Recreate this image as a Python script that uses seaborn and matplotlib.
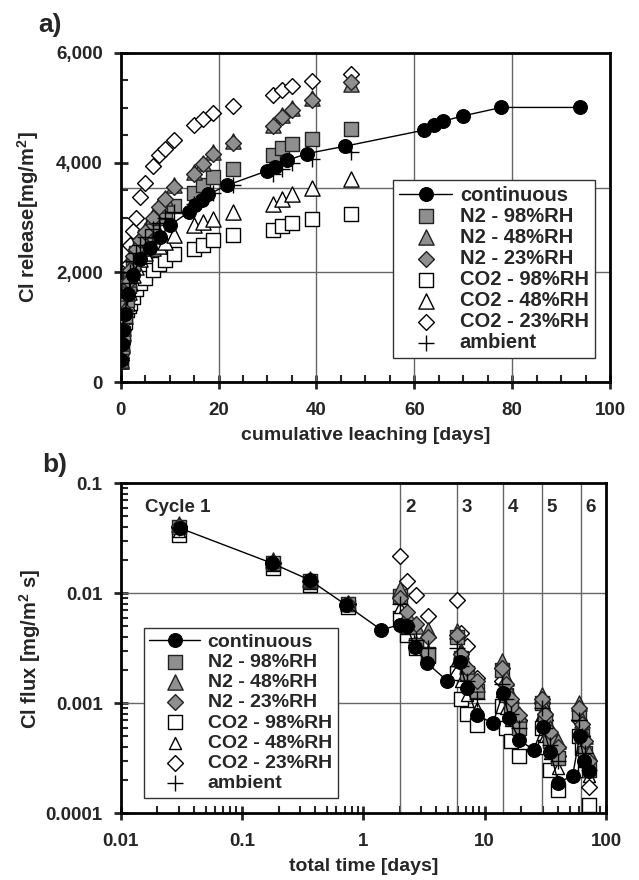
import numpy as np
import pandas as pd
import seaborn as sns
import matplotlib.pyplot as plt
from matplotlib.ticker import MultipleLocator, FuncFormatter, LogLocator, NullFormatter

# ---- panel a: cumulative Cl release ----
cont_days_a = [0.04, 0.2, 0.4, 0.8, 1.5, 2.5, 4, 6, 8, 10.1, 13.9, 15.2, 16.6, 17.9, 21.8,
               29.9, 31.6, 34, 38.1, 45.9, 61.9, 64, 65.9, 69.9, 77.8, 93.9]
cont_rel_a = [400, 700, 950, 1250, 1600, 1950, 2250, 2440, 2650, 2860, 3100, 3220, 3315, 3420, 3590,
              3850, 3920, 4040, 4165, 4300, 4590, 4690, 4755, 4850, 5005, 5005]

days_a = [0.03, 0.2, 0.4, 0.8, 1.2, 1.6, 2.0, 2.6, 3.2, 4.0, 5.0, 6.7, 7.9, 9.1, 10.8,
          14.9, 16.9, 18.8, 22.9, 31.2, 33.0, 35.1, 39.1, 47.1]
n2_98_a = [380, 650, 900, 1200, 1500, 1750, 1950, 2150, 2350, 2500, 2650, 2870, 3000, 3100, 3205,
           3440, 3590, 3730, 3890, 4135, 4275, 4335, 4425, 4620]
n2_48_a = [410, 720, 980, 1330, 1630, 1880, 2080, 2330, 2460, 2630, 2770, 3030, 3230, 3360, 3590,
           3830, 4000, 4190, 4400, 4690, 4860, 4990, 5170, 5430]
n2_23_a = [400, 700, 950, 1300, 1600, 1850, 2050, 2300, 2430, 2600, 2740, 3000, 3200, 3330, 3560,
           3800, 3970, 4160, 4360, 4660, 4830, 4965, 5145, 5465]
co2_98_a = [380, 650, 850, 1100, 1310, 1380, 1450, 1560, 1700, 1800, 1900, 2040, 2150, 2230, 2345,
            2436, 2496, 2587, 2691, 2782, 2842, 2902, 2982, 3073]
co2_48_a = [380, 680, 900, 1200, 1450, 1650, 1800, 1950, 2100, 2250, 2350, 2450, 2480, 2560, 2680,
            2860, 2920, 2980, 3100, 3255, 3345, 3436, 3545, 3696]
co2_23_a = [450, 800, 1100, 1500, 1850, 2150, 2500, 2750, 3000, 3370, 3620, 3930, 4130, 4255, 4420,
            4680, 4800, 4900, 5025, 5225, 5315, 5390, 5480, 5620]
amb_a = [400, 700, 950, 1250, 1550, 1800, 2000, 2200, 2350, 2500, 2650, 2800, 2900, 3000, 3100,
         3250, 3350, 3450, 3600, 3800, 3890, 3990, 4075, 4195]

# ---- panel b: Cl flux ----
cont_t_b = [0.031, 0.178, 0.361, 0.724, 1.41, 2.0, 2.3, 2.64, 3.37, 4.91, 6.2, 7.13, 8.6, 11.7,
            14.1, 16.0, 19.3, 25.3, 30.1, 34.8, 40.4, 53.1, 60.5, 66, 72]
cont_flux_b = [0.039, 0.0187, 0.0132, 0.0078, 0.00464, 0.0052, 0.0050, 0.00327, 0.00231, 0.0016,
               0.00239, 0.00137, 0.00078, 0.00066, 0.00123, 0.00073, 0.00046, 0.00038, 0.00061,
               0.00036, 0.00019, 0.00022, 0.0005, 0.0003, 0.00024]

t_b = [0.03, 0.18, 0.36, 0.75, 2.0, 2.3, 2.7, 3.4, 5.9, 6.4, 7.2, 8.6, 14.0, 15.0, 16.5, 19.0,
       29.5, 31.5, 34.5, 40.0, 60.0, 63.0, 67.0, 73.0]
n2_98_b = [0.040, 0.019, 0.013, 0.008, 0.0095, 0.0050, 0.0034, 0.0028, 0.0040, 0.0026, 0.0019, 0.0013,
           0.0020, 0.0012, 0.0009, 0.0006, 0.0010, 0.0007, 0.00045, 0.00032, 0.0008, 0.0005, 0.00035, 0.00025]
n2_48_b = [0.043, 0.020, 0.0135, 0.0082, 0.0110, 0.0065, 0.0050, 0.0046, 0.0045, 0.0030, 0.0022, 0.0015,
           0.0024, 0.0017, 0.0012, 0.0008, 0.0012, 0.0009, 0.0006, 0.00045, 0.0010, 0.0007, 0.0005, 0.00035]
n2_23_b = [0.041, 0.019, 0.013, 0.008, 0.0090, 0.0068, 0.0053, 0.0040, 0.0042, 0.0028, 0.0021, 0.0016,
           0.0021, 0.0015, 0.0011, 0.00078, 0.0011, 0.0008, 0.00055, 0.0004, 0.0009, 0.00065, 0.00045, 0.0003]
co2_98_b = [0.034, 0.017, 0.012, 0.0075, 0.0060, 0.0042, 0.0032, 0.0027, 0.0019, 0.0011, 0.0008, 0.00063,
            0.00095, 0.0006, 0.00045, 0.00033, 0.0006, 0.0004, 0.00025, 0.000163, 0.0005, 0.00039, 0.00025, 0.000119]
co2_48_b = [0.037, 0.018, 0.0125, 0.0078, 0.0075, 0.0048, 0.0036, 0.0030, 0.0025, 0.0016, 0.0012, 0.0009,
            0.0013, 0.0009, 0.0007, 0.0005, 0.0008, 0.0005, 0.00035, 0.00026, 0.0006, 0.0004, 0.0003, 0.00022]
co2_23_b = [0.040, 0.019, 0.013, 0.008, 0.022, 0.013, 0.0097, 0.0062, 0.0087, 0.0044, 0.0033, 0.0017,
            0.0016, 0.0012, 0.0009, 0.0007, 0.0010, 0.0007, 0.00045, 0.00033, 0.0007, 0.0005, 0.0003, 0.000175]
amb_b = [0.039, 0.019, 0.013, 0.008, 0.0080, 0.0050, 0.0038, 0.0032, 0.0032, 0.0022, 0.0016, 0.0011,
         0.0015, 0.0011, 0.0008, 0.0006, 0.0009, 0.0006, 0.00042, 0.0003, 0.0007, 0.0005, 0.00035, 0.00025]

cycle_starts = [2.02, 5.89, 14.1, 29.5, 62.3]
cycle_names = ['2', '3', '4', '5', '6']

labels = ['N2 - 98%RH', 'N2 - 48%RH', 'N2 - 23%RH', 'CO2 - 98%RH', 'CO2 - 48%RH', 'CO2 - 23%RH', 'ambient']

sns.set_style("ticks")
plt.rcParams['font.family'] = ['Liberation Sans', 'DejaVu Sans']
plt.rcParams['font.weight'] = 'bold'
plt.rcParams['mathtext.fontset'] = 'custom'
plt.rcParams['mathtext.bf'] = 'Liberation Sans:bold'
plt.rcParams['mathtext.rm'] = 'Liberation Sans:bold'
plt.rcParams['mathtext.default'] = 'bf'

GRAY = '#8f8f8f'
# (marker, size, face, edge, zorder)
styles = [('s', 95, GRAY, '#222222', 4),
          ('^', 120, GRAY, '#222222', 4),
          ('D', 65, GRAY, '#222222', 4),
          ('s', 95, 'white', 'black', 3),
          ('^', 120, 'white', 'black', 3),
          ('D', 65, 'white', 'black', 3),
          ('+', 140, 'black', 'black', 6)]


def draw(ax, xs, series, cont_x, cont_y, tri_size=120):
    handles = []
    for lab, ys, (m, s, fc, ec, z) in zip(labels, series, styles):
        if lab == 'CO2 - 48%RH':
            s = tri_size
        if m == '+':
            sc = ax.scatter(xs, ys, marker=m, s=s, c='black', linewidths=1.0, zorder=z, label=lab)
        else:
            sc = ax.scatter(xs, ys, marker=m, s=s, facecolor=fc, edgecolor=ec, linewidths=1.0,
                            zorder=z, label=lab)
        handles.append(sc)
    df = pd.DataFrame({'x': cont_x, 'y': cont_y})
    sns.lineplot(data=df, x='x', y='y', ax=ax, color='black', lw=1.0, marker='o', markersize=10,
                 markeredgecolor='black', zorder=5, sort=False, label='continuous')
    line = ax.get_lines()[-1]
    return [line] + handles


fig = plt.figure(figsize=(6.39, 8.80), dpi=100)
ax1 = fig.add_axes([0.1889, 0.5656, 0.7657, 0.3744])
ax2 = fig.add_axes([0.1889, 0.0758, 0.7595, 0.375])

# panel a
h1 = draw(ax1, days_a, [n2_98_a, n2_48_a, n2_23_a, co2_98_a, co2_48_a, co2_23_a, amb_a],
          cont_days_a, cont_rel_a)
ax1.set_xlim(0, 100)
ax1.set_ylim(0, 6000)
for gx in [20, 40, 60, 80]:
    ax1.axvline(gx, color='#666666', lw=1.0, zorder=1)
for gy in [2000, 3540]:
    ax1.axhline(gy, color='#666666', lw=1.0, zorder=1)
ax1.xaxis.set_major_locator(MultipleLocator(20))
ax1.xaxis.set_minor_locator(MultipleLocator(5))
ax1.yaxis.set_major_locator(MultipleLocator(2000))
ax1.yaxis.set_minor_locator(MultipleLocator(500))
ax1.yaxis.set_major_formatter(FuncFormatter(lambda v, p: f"{v:,.0f}"))
ax1.set_xlabel('cumulative leaching [days]', fontsize=14, fontweight='bold', labelpad=6)
ax1.set_ylabel(r'Cl release[mg/m$^2$]', fontsize=14.5, fontweight='bold', labelpad=11)
ax1.legend(handles=h1, loc='lower right', bbox_to_anchor=(0.969, 0.074),
           frameon=True, fancybox=False, edgecolor='#333333', framealpha=1, labelspacing=0.1,
           handlelength=2.6, handletextpad=0.4, borderpad=0.3, borderaxespad=0,
           prop={'weight': 'bold', 'size': 14.5})
fig.text(0.06, 0.964, 'a)', fontsize=19, fontweight='bold')

# panel b
h2 = draw(ax2, t_b, [n2_98_b, n2_48_b, n2_23_b, co2_98_b, co2_48_b, co2_23_b, amb_b],
          cont_t_b, cont_flux_b, tri_size=75)
ax2.set_xscale('log')
ax2.set_yscale('log')
ax2.set_xlim(0.01, 100)
ax2.set_ylim(0.0001, 0.1)
for gx in cycle_starts:
    ax2.axvline(gx, color='#666666', lw=1.0, zorder=1)
for gy in [0.01, 0.001]:
    ax2.axhline(gy, color='#666666', lw=1.0, zorder=1)
ax2.xaxis.set_major_locator(LogLocator(base=10, numticks=10))
ax2.xaxis.set_minor_locator(LogLocator(base=10, subs=np.arange(2, 10), numticks=10))
ax2.yaxis.set_major_locator(LogLocator(base=10, numticks=10))
ax2.yaxis.set_minor_locator(LogLocator(base=10, subs=np.arange(2, 10), numticks=10))
ax2.xaxis.set_minor_formatter(NullFormatter())
ax2.yaxis.set_minor_formatter(NullFormatter())
ax2.xaxis.set_major_formatter(FuncFormatter(lambda v, p: f"{v:g}"))
ax2.yaxis.set_major_formatter(FuncFormatter(lambda v, p: f"{v:.4f}".rstrip('0') if v < 1 else f"{v:g}"))
ax2.set_xlabel('total time [days]', fontsize=14, fontweight='bold', labelpad=6)
ax2.set_ylabel(r'Cl flux [mg/m$^2$ s]', fontsize=14.5, fontweight='bold', labelpad=2)
ax2.text(0.016, 0.06, 'Cycle 1', fontsize=13.5, fontweight='bold', va='center')
for cx, name in zip(cycle_starts, cycle_names):
    ax2.text(cx * 1.09, 0.06, name, fontsize=13.5, fontweight='bold', va='center')
ax2.legend(handles=h2, loc='lower left', bbox_to_anchor=(0.047, 0.047),
           frameon=True, fancybox=False, edgecolor='#333333', framealpha=1, labelspacing=0.13,
           handlelength=2.6, handletextpad=0.4, borderpad=0.3, borderaxespad=0,
           prop={'weight': 'bold', 'size': 14})
fig.text(0.066, 0.464, 'b)', fontsize=19, fontweight='bold')

for ax in (ax1, ax2):
    for sp in ax.spines.values():
        sp.set_linewidth(2.0)
        sp.set_color('black')
    ax.tick_params(which='major', direction='inout', length=10, width=2.0, labelsize=13.5,
                   top=False, right=False)
    ax.tick_params(axis='x', which='major', pad=9)
    ax.tick_params(axis='y', which='major', pad=8)
    ax.tick_params(which='minor', direction='in', length=5, width=1.5, top=False, right=False)
    for t in ax.get_xticklabels() + ax.get_yticklabels():
        t.set_fontweight('bold')

fig.savefig('out.png', dpi=100)
